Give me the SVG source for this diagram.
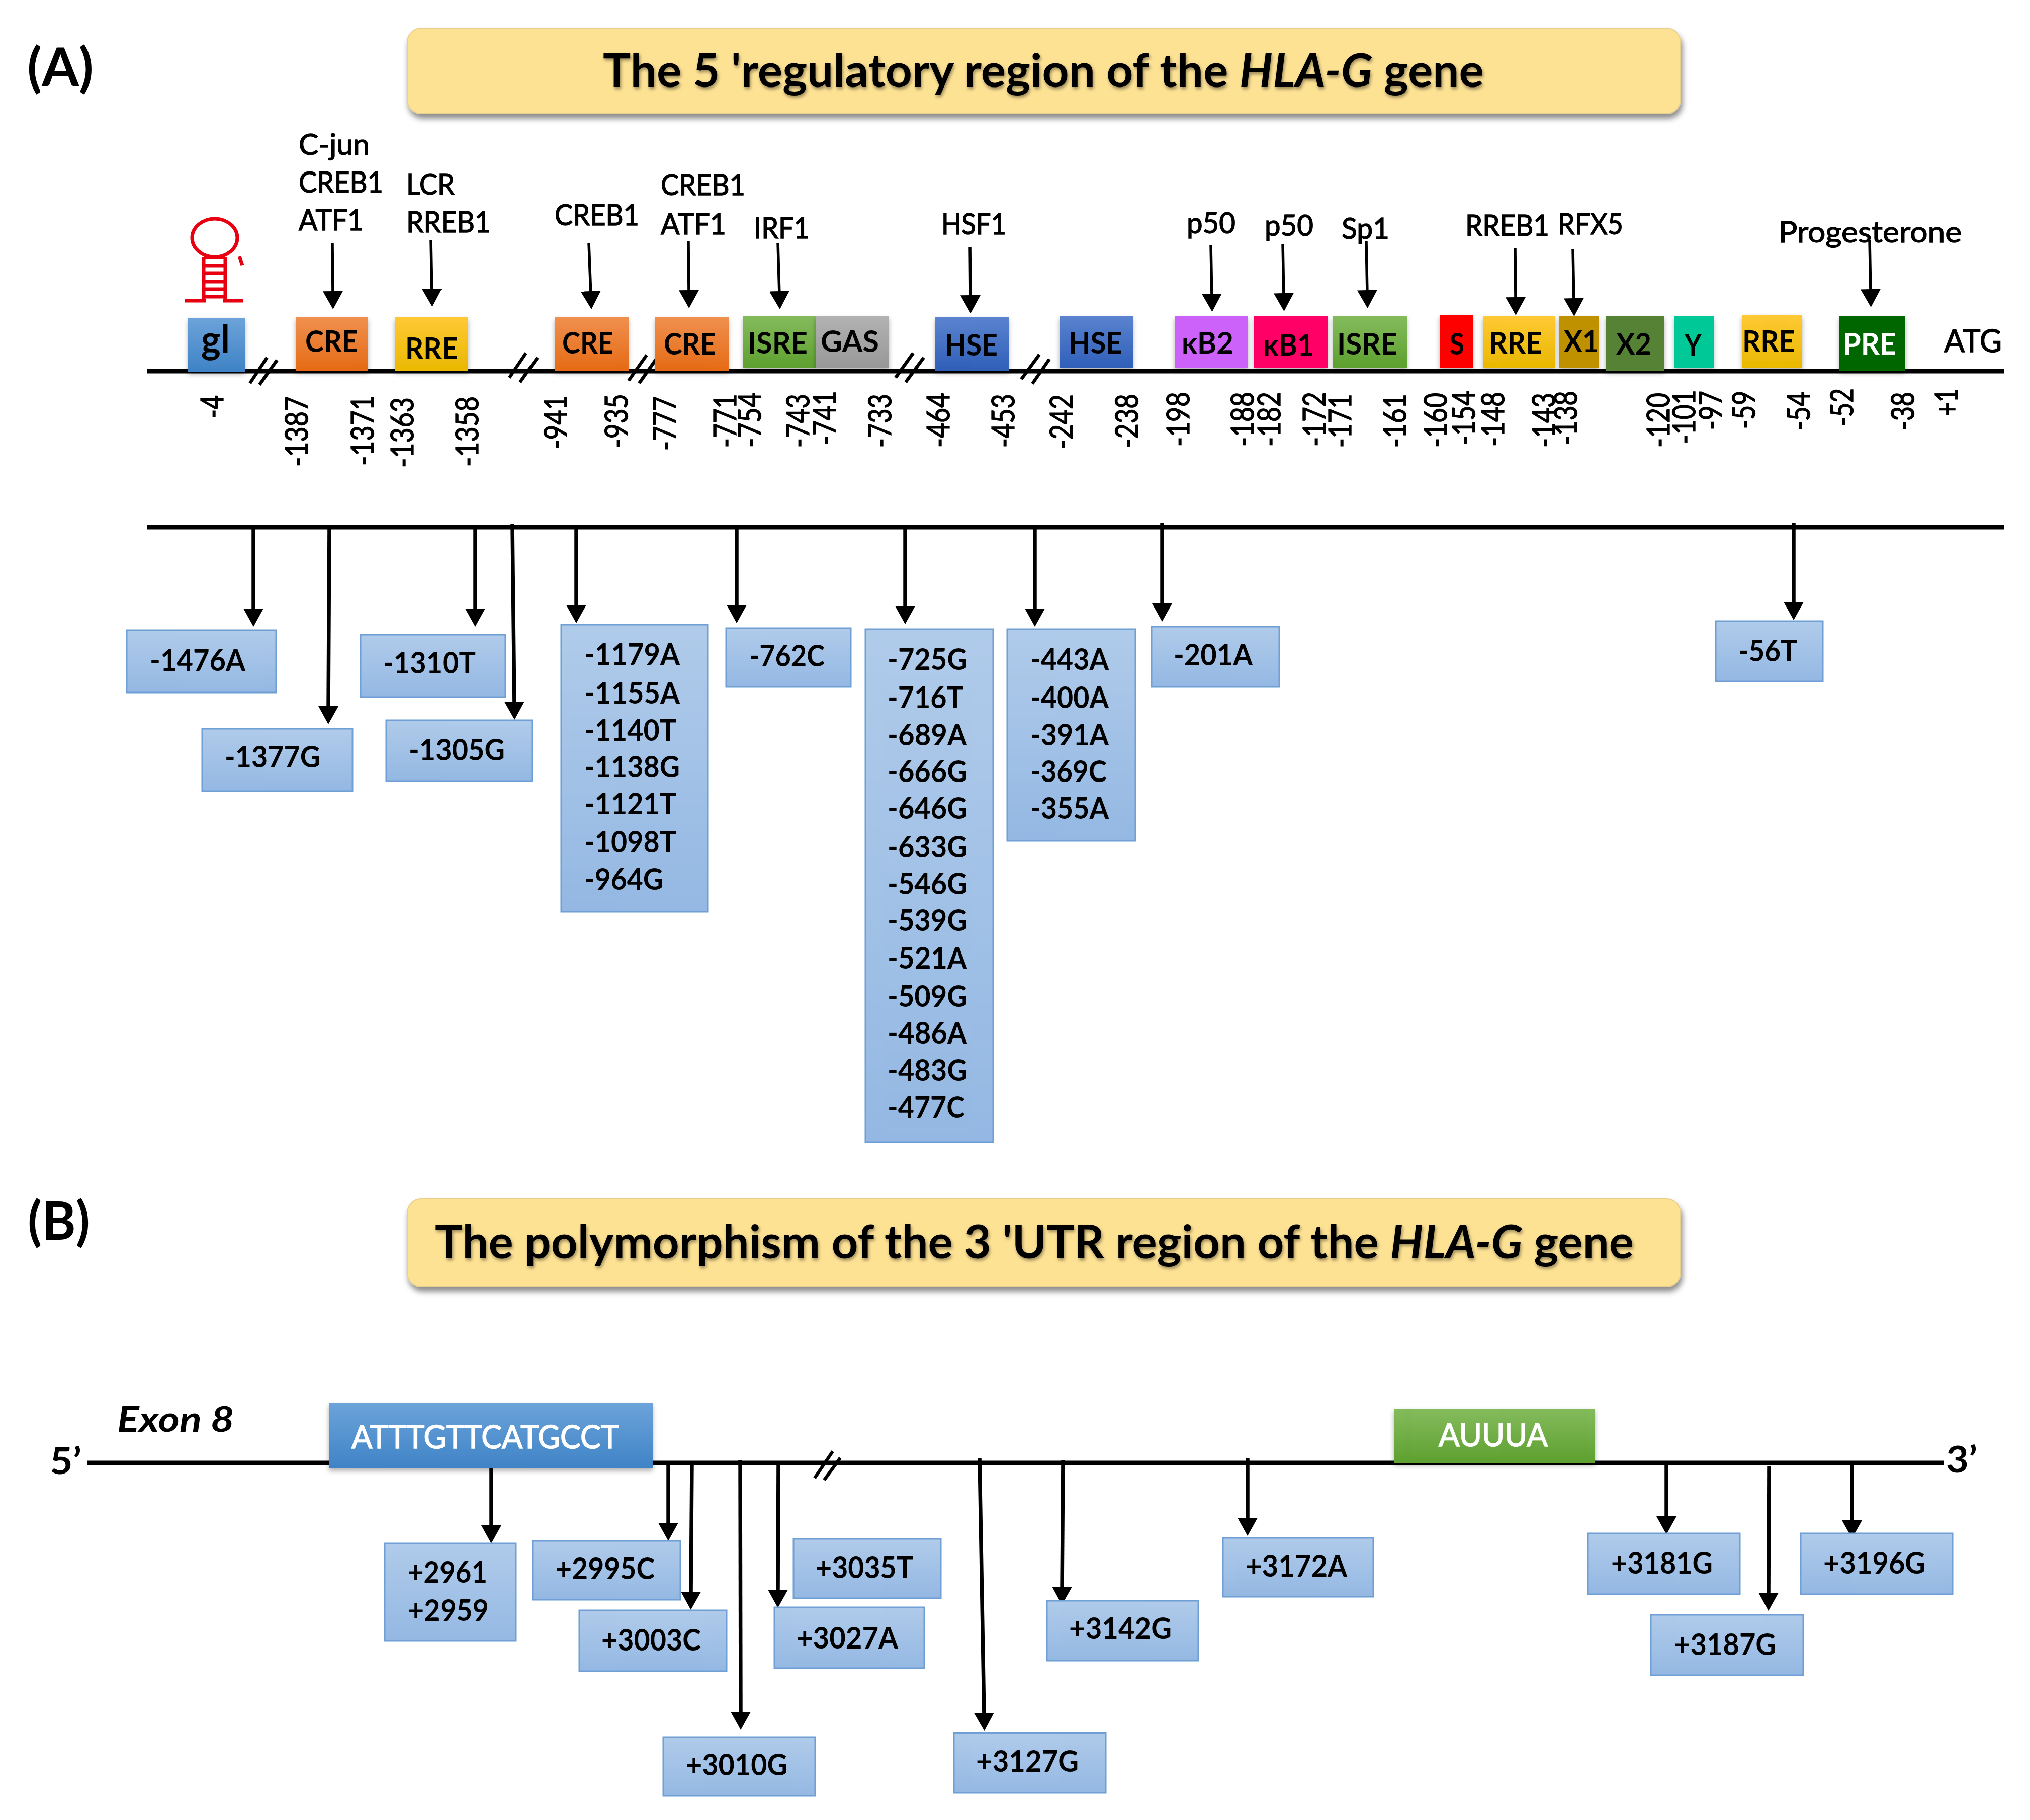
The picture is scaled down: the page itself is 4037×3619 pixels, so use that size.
<svg xmlns="http://www.w3.org/2000/svg" width="4037" height="3619" viewBox="0 0 4037 3619">
<style>
text{font-family:"Lato","Liberation Sans",sans-serif;fill:#000;font-weight:700}
.title{font-size:92px;filter:url(#ts)}
.panel{font-size:106px}
.top{font-size:58px;font-weight:400;stroke:#000;stroke-width:1.4px}
.atg{font-size:62px}
.lab{font-size:60px}
.num{font-size:62px;font-weight:400;stroke:#000;stroke-width:1.4px}
.snp{font-size:60px}
.strand{font-size:72px}
.exon{font-size:70px;font-style:italic}
.seq{font-size:64px;font-weight:400;fill:#fff;stroke:#fff;stroke-width:1.6px}
.wh{fill:#fff}
.title,.panel,.top,.lab,.snp,.strand,.exon,.seq{transform:translateY(2px)}
.line{stroke:#000;stroke-width:9;fill:none}
.brk{stroke:#000;stroke-width:6.5;fill:none}
.arr{stroke:#000;stroke-width:7.5;fill:none;marker-end:url(#ah)}
.arrt{stroke:#000;stroke-width:5.5;fill:none;marker-end:url(#ah)}
.snpbox{fill:url(#gSnp);stroke:#6F9FD4;stroke-width:3}
.titlebox{fill:#FEE294;stroke:#E8CF8C;stroke-width:2;filter:url(#sh)}
.bx{filter:url(#sh2)}
.rna{stroke:#E60012;stroke-width:7;fill:none}
</style>
<defs>
<marker id="ah" markerUnits="userSpaceOnUse" markerWidth="36" markerHeight="40" refX="6" refY="20" orient="auto" viewBox="0 0 36 40"><path d="M0,0L36,20L0,40z" fill="#000"/></marker>
<filter id="sh" x="-5%" y="-20%" width="110%" height="150%"><feDropShadow dx="3" dy="9" stdDeviation="6" flood-color="#000" flood-opacity=".45"/></filter>
<filter id="sh2" x="-20%" y="-20%" width="140%" height="140%"><feDropShadow dx="0" dy="5" stdDeviation="5" flood-color="#000" flood-opacity=".3"/></filter>
<filter id="ts" x="-2%" y="-20%" width="104%" height="150%"><feDropShadow dx="2" dy="4" stdDeviation="3" flood-color="#000" flood-opacity=".4"/></filter>
<linearGradient id="gSnp" x1="0" y1="0" x2="0" y2="1"><stop offset="0" stop-color="#B0CBEA"/><stop offset="1" stop-color="#94B8E3"/></linearGradient>
<linearGradient id="gGl" x1="0" y1="0" x2="0" y2="1"><stop offset="0" stop-color="#6CA3DA"/><stop offset="1" stop-color="#3F83C6"/></linearGradient>
<linearGradient id="gCre" x1="0" y1="0" x2="0" y2="1"><stop offset="0" stop-color="#F0904F"/><stop offset="1" stop-color="#E56A14"/></linearGradient>
<linearGradient id="gRre" x1="0" y1="0" x2="0" y2="1"><stop offset="0" stop-color="#FFC935"/><stop offset="1" stop-color="#E9B800"/></linearGradient>
<linearGradient id="gIsre" x1="0" y1="0" x2="0" y2="1"><stop offset="0" stop-color="#84BB5C"/><stop offset="1" stop-color="#5EA02F"/></linearGradient>
<linearGradient id="gGas" x1="0" y1="0" x2="0" y2="1"><stop offset="0" stop-color="#B2B2B2"/><stop offset="1" stop-color="#989898"/></linearGradient>
<linearGradient id="gHse" x1="0" y1="0" x2="0" y2="1"><stop offset="0" stop-color="#5B83CF"/><stop offset="1" stop-color="#2F5FB8"/></linearGradient>
</defs>
<rect width="4037" height="3619" fill="#fff"/>
<g id="connectors">
<path class="line" d="M292 738H3986M292 1048H3986M173 2909H3866"/>
<path class="brk" d="M531 711L497 762M551 716L516 765M1046 702L1013 751M1069 711L1034 760M1286 706L1250 757M1305 714L1271 762M1816 702L1781 751M1837 711L1801 760M2067 705L2031 754M2087 714L2053 763M1656 2886L1620 2939M1671 2899L1639 2943"/>
<path class="arrt" d="M661 483L662 585"/>
<path class="arrt" d="M857 477L859 580"/>
<path class="arrt" d="M1171 483L1175 585"/>
<path class="arrt" d="M1369 480L1370 583"/>
<path class="arrt" d="M1547 483L1550 585"/>
<path class="arrt" d="M1929 491L1930 593"/>
<path class="arrt" d="M2408 488L2410 590"/>
<path class="arrt" d="M2551 485L2553 589"/>
<path class="arrt" d="M2717 480L2719 583"/>
<path class="arrt" d="M3013 493L3014 597"/>
<path class="arrt" d="M3128 496L3130 599"/>
<path class="arrt" d="M3718 478L3720 581"/>
<path class="arr" d="M504 1048V1216"/>
<path class="arr" d="M655 1048L653 1410"/>
<path class="arr" d="M945 1048V1216"/>
<path class="arr" d="M1019 1041L1023 1401"/>
<path class="arr" d="M1146 1048V1209"/>
<path class="arr" d="M1465 1048V1209"/>
<path class="arr" d="M1800 1048V1211"/>
<path class="arr" d="M2058 1048V1216"/>
<path class="arr" d="M2311 1040V1206"/>
<path class="arr" d="M3567 1040V1203"/>
<path class="arr" d="M977 2918V3039"/>
<path class="arr" d="M1329 2914V3034"/>
<path class="arr" d="M1376 2914L1374 3171"/>
<path class="arr" d="M1472 2903L1473 3410"/>
<path class="arr" d="M1548 2910L1547 3167"/>
<path class="arr" d="M1948 2900L1957 3412"/>
<path class="arr" d="M2114 2903L2112 3161"/>
<path class="arr" d="M2481 2899V3024"/>
<path class="arr" d="M3314 2908V3021"/>
<path class="arr" d="M3518 2915L3517 3173"/>
<path class="arr" d="M3683 2908V3029"/>
</g>
<g id="panel-a-heading">
<text class="panel" x="54" y="169" textLength="132" lengthAdjust="spacingAndGlyphs">(A)</text>
<rect class="titlebox" x="810" y="56" width="2532" height="170" rx="28"/>
<text class="title" x="1199" y="171" textLength="1752" lengthAdjust="spacingAndGlyphs">The 5 'regulatory region of the <tspan font-style="italic">HLA-G</tspan> gene</text>
</g>
<g id="stem-loop">
<ellipse class="rna" cx="427" cy="473" rx="45" ry="38"/>
<path class="rna" d="M405 512V597M448 512V597M405 512H448M405 528H448M405 543H448M405 560H448M405 575H448M405 590H448M367 598H409M444 598H483"/>
<path class="rna" d="M476 510L482 527" stroke-width="4"/>
</g>
<g id="factors">
<text class="top" x="594" y="306" textLength="141" lengthAdjust="spacingAndGlyphs">C-jun</text>
<text class="top" x="594" y="381" textLength="168" lengthAdjust="spacingAndGlyphs">CREB1</text>
<text class="top" x="594" y="456" textLength="129" lengthAdjust="spacingAndGlyphs">ATF1</text>
<text class="top" x="808" y="385" textLength="96" lengthAdjust="spacingAndGlyphs">LCR</text>
<text class="top" x="808" y="460" textLength="168" lengthAdjust="spacingAndGlyphs">RREB1</text>
<text class="top" x="1103" y="446" textLength="168" lengthAdjust="spacingAndGlyphs">CREB1</text>
<text class="top" x="1314" y="386" textLength="168" lengthAdjust="spacingAndGlyphs">CREB1</text>
<text class="top" x="1314" y="464" textLength="130" lengthAdjust="spacingAndGlyphs">ATF1</text>
<text class="top" x="1499" y="472" textLength="111" lengthAdjust="spacingAndGlyphs">IRF1</text>
<text class="top" x="1872" y="464" textLength="129" lengthAdjust="spacingAndGlyphs">HSF1</text>
<text class="top" x="2360" y="462" textLength="97" lengthAdjust="spacingAndGlyphs">p50</text>
<text class="top" x="2515" y="467" textLength="97" lengthAdjust="spacingAndGlyphs">p50</text>
<text class="top" x="2668" y="473" textLength="95" lengthAdjust="spacingAndGlyphs">Sp1</text>
<text class="top" x="2914" y="467" textLength="167" lengthAdjust="spacingAndGlyphs">RREB1</text>
<text class="top" x="3098" y="464" textLength="130" lengthAdjust="spacingAndGlyphs">RFX5</text>
<text class="top" x="3537" y="480" textLength="364" lengthAdjust="spacingAndGlyphs">Progesterone</text>
<text class="top atg" x="3866" y="698" textLength="115" lengthAdjust="spacingAndGlyphs">ATG</text>
</g>
<g id="n-gl" class="bx"><rect x="374" y="632" width="113" height="107" fill="url(#gGl)"/><text x="400" y="702" font-size="76" textLength="57" lengthAdjust="spacingAndGlyphs">gl</text></g>
<g id="n-cre1" class="bx"><rect x="588" y="631" width="144" height="106" fill="url(#gCre)"/><text class="lab" x="607" y="698" textLength="105" lengthAdjust="spacingAndGlyphs">CRE</text></g>
<g id="n-rre1" class="bx"><rect x="785" y="631" width="146" height="106" fill="url(#gRre)"/><text class="lab" x="806" y="712" textLength="105" lengthAdjust="spacingAndGlyphs">RRE</text></g>
<g id="n-cre2" class="bx"><rect x="1103" y="631" width="147" height="106" fill="url(#gCre)"/><text class="lab" x="1118" y="701" textLength="102" lengthAdjust="spacingAndGlyphs">CRE</text></g>
<g id="n-cre3" class="bx"><rect x="1303" y="631" width="146" height="106" fill="url(#gCre)"/><text class="lab" x="1320" y="703" textLength="104" lengthAdjust="spacingAndGlyphs">CRE</text></g>
<g id="n-isre1" class="bx"><rect x="1478" y="629" width="144" height="102" fill="url(#gIsre)"/><text class="lab" x="1487" y="701" textLength="119" lengthAdjust="spacingAndGlyphs">ISRE</text></g>
<g id="n-gas" class="bx"><rect x="1622" y="629" width="146" height="102" fill="url(#gGas)"/><text class="lab" x="1632" y="698" textLength="116" lengthAdjust="spacingAndGlyphs">GAS</text></g>
<g id="n-hse1" class="bx"><rect x="1860" y="631" width="146" height="106" fill="url(#gHse)"/><text class="lab" x="1879" y="705" textLength="105" lengthAdjust="spacingAndGlyphs">HSE</text></g>
<g id="n-hse2" class="bx"><rect x="2107" y="629" width="146" height="102" fill="url(#gHse)"/><text class="lab" x="2125" y="701" textLength="107" lengthAdjust="spacingAndGlyphs">HSE</text></g>
<g id="n-kb2" class="bx"><rect x="2336" y="629" width="146" height="102" fill="#CC62FA"/><text class="lab" x="2350" y="701" textLength="103" lengthAdjust="spacingAndGlyphs">κB2</text></g>
<g id="n-kb1" class="bx"><rect x="2494" y="629" width="146" height="102" fill="#FF0066"/><text class="lab" x="2512" y="705" textLength="101" lengthAdjust="spacingAndGlyphs">κB1</text></g>
<g id="n-isre2" class="bx"><rect x="2651" y="629" width="147" height="102" fill="url(#gIsre)"/><text class="lab" x="2659" y="703" textLength="120" lengthAdjust="spacingAndGlyphs">ISRE</text></g>
<g id="n-s" class="bx"><rect x="2863" y="626" width="66" height="105" fill="#FF0000"/><text class="lab" x="2883" y="703" textLength="29" lengthAdjust="spacingAndGlyphs">S</text></g>
<g id="n-rre2" class="bx"><rect x="2949" y="629" width="144" height="102" fill="url(#gRre)"/><text class="lab" x="2961" y="701" textLength="106" lengthAdjust="spacingAndGlyphs">RRE</text></g>
<g id="n-x1" class="bx"><rect x="3101" y="629" width="78" height="102" fill="#BF9000"/><text class="lab" x="3110" y="698" textLength="69" lengthAdjust="spacingAndGlyphs">X1</text></g>
<g id="n-x2" class="bx"><rect x="3193" y="629" width="117" height="108" fill="#548235"/><text class="lab" x="3214" y="703" textLength="70" lengthAdjust="spacingAndGlyphs">X2</text></g>
<g id="n-y" class="bx"><rect x="3330" y="629" width="78" height="102" fill="#00C896"/><text class="lab" x="3350" y="705" textLength="34" lengthAdjust="spacingAndGlyphs">Y</text></g>
<g id="n-rre3" class="bx"><rect x="3464" y="626" width="120" height="105" fill="url(#gRre)"/><text class="lab" x="3465" y="698" textLength="105" lengthAdjust="spacingAndGlyphs">RRE</text></g>
<g id="n-pre" class="bx"><rect x="3658" y="629" width="131" height="108" fill="#006600"/><text class="lab wh" x="3665" y="703" textLength="106" lengthAdjust="spacingAndGlyphs">PRE</text></g>
<g id="positions">
<text class="num" transform="translate(444,832) rotate(-90)" textLength="46" lengthAdjust="spacingAndGlyphs">-4</text>
<text class="num" transform="translate(612,928) rotate(-90)" textLength="140" lengthAdjust="spacingAndGlyphs">-1387</text>
<text class="num" transform="translate(743,926) rotate(-90)" textLength="140" lengthAdjust="spacingAndGlyphs">-1371</text>
<text class="num" transform="translate(822,930) rotate(-90)" textLength="140" lengthAdjust="spacingAndGlyphs">-1363</text>
<text class="num" transform="translate(951,928) rotate(-90)" textLength="140" lengthAdjust="spacingAndGlyphs">-1358</text>
<text class="num" transform="translate(1127,893) rotate(-90)" textLength="107" lengthAdjust="spacingAndGlyphs">-941</text>
<text class="num" transform="translate(1248,891) rotate(-90)" textLength="108" lengthAdjust="spacingAndGlyphs">-935</text>
<text class="num" transform="translate(1344,896) rotate(-90)" textLength="108" lengthAdjust="spacingAndGlyphs">-777</text>
<text class="num" transform="translate(1464,890) rotate(-90)" textLength="107" lengthAdjust="spacingAndGlyphs">-771</text>
<text class="num" transform="translate(1513,890) rotate(-90)" textLength="110" lengthAdjust="spacingAndGlyphs">-754</text>
<text class="num" transform="translate(1609,890) rotate(-90)" textLength="107" lengthAdjust="spacingAndGlyphs">-743</text>
<text class="num" transform="translate(1662,885) rotate(-90)" textLength="108" lengthAdjust="spacingAndGlyphs">-741</text>
<text class="num" transform="translate(1772,890) rotate(-90)" textLength="107" lengthAdjust="spacingAndGlyphs">-733</text>
<text class="num" transform="translate(1888,890) rotate(-90)" textLength="109" lengthAdjust="spacingAndGlyphs">-464</text>
<text class="num" transform="translate(2017,890) rotate(-90)" textLength="107" lengthAdjust="spacingAndGlyphs">-453</text>
<text class="num" transform="translate(2133,893) rotate(-90)" textLength="109" lengthAdjust="spacingAndGlyphs">-242</text>
<text class="num" transform="translate(2263,891) rotate(-90)" textLength="108" lengthAdjust="spacingAndGlyphs">-238</text>
<text class="num" transform="translate(2365,888) rotate(-90)" textLength="109" lengthAdjust="spacingAndGlyphs">-198</text>
<text class="num" transform="translate(2493,888) rotate(-90)" textLength="109" lengthAdjust="spacingAndGlyphs">-188</text>
<text class="num" transform="translate(2546,888) rotate(-90)" textLength="109" lengthAdjust="spacingAndGlyphs">-182</text>
<text class="num" transform="translate(2636,888) rotate(-90)" textLength="109" lengthAdjust="spacingAndGlyphs">-172</text>
<text class="num" transform="translate(2687,890) rotate(-90)" textLength="107" lengthAdjust="spacingAndGlyphs">-171</text>
<text class="num" transform="translate(2796,890) rotate(-90)" textLength="107" lengthAdjust="spacingAndGlyphs">-161</text>
<text class="num" transform="translate(2877,890) rotate(-90)" textLength="109" lengthAdjust="spacingAndGlyphs">-160</text>
<text class="num" transform="translate(2933,885) rotate(-90)" textLength="108" lengthAdjust="spacingAndGlyphs">-154</text>
<text class="num" transform="translate(2991,888) rotate(-90)" textLength="109" lengthAdjust="spacingAndGlyphs">-148</text>
<text class="num" transform="translate(3092,890) rotate(-90)" textLength="109" lengthAdjust="spacingAndGlyphs">-143</text>
<text class="num" transform="translate(3136,885) rotate(-90)" textLength="108" lengthAdjust="spacingAndGlyphs">-138</text>
<text class="num" transform="translate(3320,890) rotate(-90)" textLength="109" lengthAdjust="spacingAndGlyphs">-120</text>
<text class="num" transform="translate(3371,883) rotate(-90)" textLength="108" lengthAdjust="spacingAndGlyphs">-101</text>
<text class="num" transform="translate(3424,855) rotate(-90)" textLength="78" lengthAdjust="spacingAndGlyphs">-97</text>
<text class="num" transform="translate(3490,853) rotate(-90)" textLength="76" lengthAdjust="spacingAndGlyphs">-59</text>
<text class="num" transform="translate(3599,856) rotate(-90)" textLength="77" lengthAdjust="spacingAndGlyphs">-54</text>
<text class="num" transform="translate(3685,848) rotate(-90)" textLength="76" lengthAdjust="spacingAndGlyphs">-52</text>
<text class="num" transform="translate(3806,856) rotate(-90)" textLength="77" lengthAdjust="spacingAndGlyphs">-38</text>
<text class="num" transform="translate(3893,828) rotate(-90)" textLength="56" lengthAdjust="spacingAndGlyphs">+1</text>
</g>
<g id="snps-a" transform="translate(0,2)">
<g id="s-1476"><rect class="snpbox" x="252" y="1251" width="297" height="124"/><text class="snp" x="298" y="1330" textLength="190" lengthAdjust="spacingAndGlyphs">-1476A</text></g>
<g id="s-1377"><rect class="snpbox" x="402" y="1447" width="299" height="124"/><text class="snp" x="447" y="1522" textLength="190" lengthAdjust="spacingAndGlyphs">-1377G</text></g>
<g id="s-1310"><rect class="snpbox" x="717" y="1260" width="288" height="124"/><text class="snp" x="762" y="1335" textLength="184" lengthAdjust="spacingAndGlyphs">-1310T</text></g>
<g id="s-1305"><rect class="snpbox" x="768" y="1430" width="290" height="121"/><text class="snp" x="813" y="1508" textLength="191" lengthAdjust="spacingAndGlyphs">-1305G</text></g>
<g id="s-1179"><rect class="snpbox" x="1116" y="1240" width="291" height="571"/>
<text class="snp" x="1162" y="1318" textLength="190" lengthAdjust="spacingAndGlyphs">-1179A</text>
<text class="snp" x="1162" y="1395" textLength="190" lengthAdjust="spacingAndGlyphs">-1155A</text>
<text class="snp" x="1162" y="1469" textLength="183" lengthAdjust="spacingAndGlyphs">-1140T</text>
<text class="snp" x="1162" y="1542" textLength="190" lengthAdjust="spacingAndGlyphs">-1138G</text>
<text class="snp" x="1162" y="1615" textLength="183" lengthAdjust="spacingAndGlyphs">-1121T</text>
<text class="snp" x="1162" y="1691" textLength="183" lengthAdjust="spacingAndGlyphs">-1098T</text>
<text class="snp" x="1162" y="1765" textLength="157" lengthAdjust="spacingAndGlyphs">-964G</text></g>
<g id="s-762"><rect class="snpbox" x="1444" y="1247" width="248" height="117"/><text class="snp" x="1490" y="1321" textLength="150" lengthAdjust="spacingAndGlyphs">-762C</text></g>
<g id="s-725"><rect class="snpbox" x="1721" y="1249" width="254" height="1020"/>
<text class="snp" x="1765" y="1328" textLength="159" lengthAdjust="spacingAndGlyphs">-725G</text>
<text class="snp" x="1765" y="1404" textLength="151" lengthAdjust="spacingAndGlyphs">-716T</text>
<text class="snp" x="1765" y="1478" textLength="158" lengthAdjust="spacingAndGlyphs">-689A</text>
<text class="snp" x="1765" y="1551" textLength="159" lengthAdjust="spacingAndGlyphs">-666G</text>
<text class="snp" x="1765" y="1624" textLength="159" lengthAdjust="spacingAndGlyphs">-646G</text>
<text class="snp" x="1765" y="1701" textLength="159" lengthAdjust="spacingAndGlyphs">-633G</text>
<text class="snp" x="1765" y="1774" textLength="159" lengthAdjust="spacingAndGlyphs">-546G</text>
<text class="snp" x="1765" y="1847" textLength="159" lengthAdjust="spacingAndGlyphs">-539G</text>
<text class="snp" x="1765" y="1922" textLength="158" lengthAdjust="spacingAndGlyphs">-521A</text>
<text class="snp" x="1765" y="1998" textLength="159" lengthAdjust="spacingAndGlyphs">-509G</text>
<text class="snp" x="1765" y="2071" textLength="158" lengthAdjust="spacingAndGlyphs">-486A</text>
<text class="snp" x="1765" y="2145" textLength="159" lengthAdjust="spacingAndGlyphs">-483G</text>
<text class="snp" x="1765" y="2219" textLength="154" lengthAdjust="spacingAndGlyphs">-477C</text></g>
<g id="s-443"><rect class="snpbox" x="2003" y="1249" width="255" height="421"/>
<text class="snp" x="2049" y="1328" textLength="156" lengthAdjust="spacingAndGlyphs">-443A</text>
<text class="snp" x="2049" y="1404" textLength="156" lengthAdjust="spacingAndGlyphs">-400A</text>
<text class="snp" x="2049" y="1478" textLength="156" lengthAdjust="spacingAndGlyphs">-391A</text>
<text class="snp" x="2049" y="1551" textLength="152" lengthAdjust="spacingAndGlyphs">-369C</text>
<text class="snp" x="2049" y="1624" textLength="156" lengthAdjust="spacingAndGlyphs">-355A</text></g>
<g id="s-201"><rect class="snpbox" x="2290" y="1244" width="254" height="120"/><text class="snp" x="2334" y="1319" textLength="157" lengthAdjust="spacingAndGlyphs">-201A</text></g>
<g id="s-56"><rect class="snpbox" x="3412" y="1233" width="213" height="120"/><text class="snp" x="3457" y="1311" textLength="117" lengthAdjust="spacingAndGlyphs">-56T</text></g>
</g>
<g id="panel-b-heading">
<text class="panel" x="55" y="2463" textLength="124" lengthAdjust="spacingAndGlyphs">(B)</text>
<rect class="titlebox" x="810" y="2384" width="2532" height="175" rx="28"/>
<text class="title" x="865" y="2500" textLength="2384" lengthAdjust="spacingAndGlyphs">The polymorphism of the 3 'UTR region of the <tspan font-style="italic">HLA-G</tspan> gene</text>
</g>
<g id="strand-labels">
<text class="strand" x="99" y="2929" textLength="63" lengthAdjust="spacingAndGlyphs">5’</text>
<text class="strand" x="3870" y="2926" textLength="62" lengthAdjust="spacingAndGlyphs">3’</text>
<text class="exon" x="233" y="2845" textLength="233" lengthAdjust="spacingAndGlyphs">Exon 8</text>
</g>
<g id="n-seq" class="bx"><rect x="654" y="2790" width="644" height="130" fill="url(#gGl)"/><text class="seq" x="699" y="2878" textLength="532" lengthAdjust="spacingAndGlyphs">ATTTGTTCATGCCT</text></g>
<g id="n-auuua" class="bx"><rect x="2772" y="2801" width="400" height="108" fill="url(#gIsre)"/><text class="seq" x="2861" y="2874" textLength="217" lengthAdjust="spacingAndGlyphs">AUUUA</text></g>
<g id="snps-b" transform="translate(0,3)">
<g id="s-2961"><rect class="snpbox" x="765" y="3066" width="261" height="194"/><text class="snp" x="811" y="3142" textLength="158" lengthAdjust="spacingAndGlyphs">+2961</text><text class="snp" x="811" y="3218" textLength="161" lengthAdjust="spacingAndGlyphs">+2959</text></g>
<g id="s-2995"><rect class="snpbox" x="1059" y="3061" width="294" height="117"/><text class="snp" x="1105" y="3135" textLength="197" lengthAdjust="spacingAndGlyphs">+2995C</text></g>
<g id="s-3003"><rect class="snpbox" x="1152" y="3199" width="293" height="121"/><text class="snp" x="1196" y="3277" textLength="198" lengthAdjust="spacingAndGlyphs">+3003C</text></g>
<g id="s-3035"><rect class="snpbox" x="1578" y="3057" width="293" height="118"/><text class="snp" x="1622" y="3133" textLength="194" lengthAdjust="spacingAndGlyphs">+3035T</text></g>
<g id="s-3027"><rect class="snpbox" x="1540" y="3193" width="298" height="121"/><text class="snp" x="1584" y="3273" textLength="202" lengthAdjust="spacingAndGlyphs">+3027A</text></g>
<g id="s-3010"><rect class="snpbox" x="1319" y="3451" width="302" height="117"/><text class="snp" x="1364" y="3525" textLength="202" lengthAdjust="spacingAndGlyphs">+3010G</text></g>
<g id="s-3127"><rect class="snpbox" x="1897" y="3443" width="302" height="119"/><text class="snp" x="1941" y="3518" textLength="204" lengthAdjust="spacingAndGlyphs">+3127G</text></g>
<g id="s-3142"><rect class="snpbox" x="2082" y="3180" width="301" height="119"/><text class="snp" x="2126" y="3254" textLength="204" lengthAdjust="spacingAndGlyphs">+3142G</text></g>
<g id="s-3172"><rect class="snpbox" x="2432" y="3055" width="299" height="117"/><text class="snp" x="2477" y="3130" textLength="202" lengthAdjust="spacingAndGlyphs">+3172A</text></g>
<g id="s-3181"><rect class="snpbox" x="3158" y="3046" width="302" height="121"/><text class="snp" x="3204" y="3124" textLength="202" lengthAdjust="spacingAndGlyphs">+3181G</text></g>
<g id="s-3196"><rect class="snpbox" x="3581" y="3046" width="302" height="121"/><text class="snp" x="3626" y="3124" textLength="203" lengthAdjust="spacingAndGlyphs">+3196G</text></g>
<g id="s-3187"><rect class="snpbox" x="3283" y="3208" width="303" height="120"/><text class="snp" x="3329" y="3286" textLength="203" lengthAdjust="spacingAndGlyphs">+3187G</text></g>
</g>
</svg>
